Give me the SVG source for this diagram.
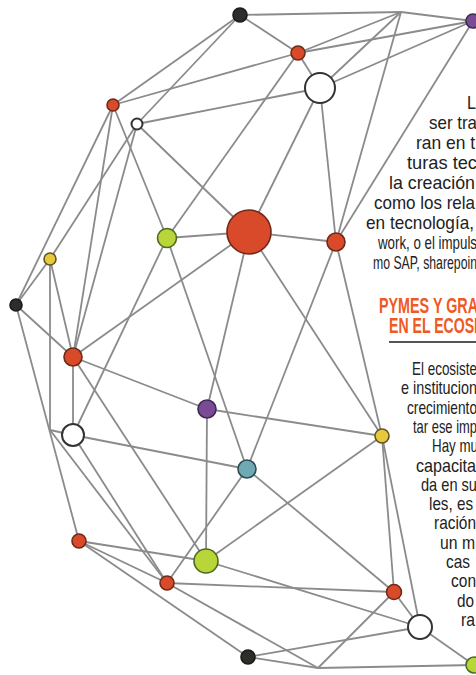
<svg xmlns="http://www.w3.org/2000/svg" width="476" height="675" viewBox="0 0 476 675">
<style>
.e{stroke:#8b8b8b;stroke-width:1.8;fill:none}
.n{stroke-width:1.6}
.red{fill:#d84a2a;stroke:#6e2a18}
.green{fill:#b8d53a;stroke:#4b6b22}
.yellow{fill:#e9c93c;stroke:#5e5428}
.purple{fill:#7b4a97;stroke:#3d2a4f}
.teal{fill:#6fa9b3;stroke:#2d4c52}
.dark{fill:#2b2f27;stroke:#1a1a1a}
.white{fill:#fff;stroke:#333;stroke-width:2}
.t{font-family:"Liberation Sans",Arial,sans-serif;font-size:18.5px;fill:#222}
.h{font-family:"Liberation Sans",Arial,sans-serif;font-size:22px;font-weight:bold;fill:#ef5a24}
</style>
<rect width="476" height="675" fill="#fff"/>
<g id="connectors">
<line class="e" x1="240" y1="15" x2="401" y2="12"/>
<line class="e" x1="401" y1="12" x2="473" y2="21"/>
<line class="e" x1="240" y1="15" x2="298" y2="53"/>
<line class="e" x1="240" y1="15" x2="113" y2="105"/>
<line class="e" x1="240" y1="15" x2="137" y2="124"/>
<line class="e" x1="401" y1="12" x2="298" y2="53"/>
<line class="e" x1="401" y1="12" x2="320" y2="88"/>
<line class="e" x1="401" y1="12" x2="336" y2="242"/>
<line class="e" x1="473" y1="21" x2="298" y2="53"/>
<line class="e" x1="473" y1="21" x2="320" y2="88"/>
<line class="e" x1="473" y1="21" x2="336" y2="242"/>
<line class="e" x1="298" y1="53" x2="113" y2="105"/>
<line class="e" x1="298" y1="53" x2="320" y2="88"/>
<line class="e" x1="298" y1="53" x2="167" y2="238"/>
<line class="e" x1="320" y1="88" x2="137" y2="124"/>
<line class="e" x1="320" y1="88" x2="249" y2="232"/>
<line class="e" x1="320" y1="88" x2="336" y2="242"/>
<line class="e" x1="113" y1="105" x2="167" y2="238"/>
<line class="e" x1="113" y1="105" x2="16" y2="305"/>
<line class="e" x1="113" y1="105" x2="73" y2="357"/>
<line class="e" x1="137" y1="124" x2="249" y2="232"/>
<line class="e" x1="137" y1="124" x2="50" y2="259"/>
<line class="e" x1="137" y1="124" x2="73" y2="357"/>
<line class="e" x1="249" y1="232" x2="167" y2="238"/>
<line class="e" x1="249" y1="232" x2="336" y2="242"/>
<line class="e" x1="249" y1="232" x2="73" y2="357"/>
<line class="e" x1="249" y1="232" x2="207" y2="409"/>
<line class="e" x1="249" y1="232" x2="382" y2="436"/>
<line class="e" x1="167" y1="238" x2="73" y2="435"/>
<line class="e" x1="167" y1="238" x2="247" y2="469"/>
<line class="e" x1="336" y1="242" x2="382" y2="436"/>
<line class="e" x1="336" y1="242" x2="247" y2="469"/>
<line class="e" x1="50" y1="259" x2="16" y2="305"/>
<line class="e" x1="50" y1="259" x2="73" y2="357"/>
<line class="e" x1="50" y1="259" x2="50" y2="430"/>
<line class="e" x1="16" y1="305" x2="73" y2="357"/>
<line class="e" x1="16" y1="305" x2="79" y2="541"/>
<line class="e" x1="73" y1="357" x2="207" y2="409"/>
<line class="e" x1="73" y1="357" x2="73" y2="435"/>
<line class="e" x1="73" y1="357" x2="206" y2="561"/>
<line class="e" x1="207" y1="409" x2="382" y2="436"/>
<line class="e" x1="207" y1="409" x2="206" y2="561"/>
<line class="e" x1="50" y1="430" x2="73" y2="435"/>
<line class="e" x1="73" y1="435" x2="247" y2="469"/>
<line class="e" x1="73" y1="435" x2="167" y2="583"/>
<line class="e" x1="50" y1="430" x2="167" y2="583"/>
<line class="e" x1="382" y1="436" x2="206" y2="561"/>
<line class="e" x1="382" y1="436" x2="394" y2="592"/>
<line class="e" x1="382" y1="436" x2="420" y2="627"/>
<line class="e" x1="247" y1="469" x2="167" y2="583"/>
<line class="e" x1="247" y1="469" x2="394" y2="592"/>
<line class="e" x1="79" y1="541" x2="206" y2="561"/>
<line class="e" x1="79" y1="541" x2="167" y2="583"/>
<line class="e" x1="79" y1="541" x2="248" y2="657"/>
<line class="e" x1="206" y1="561" x2="420" y2="627"/>
<line class="e" x1="167" y1="583" x2="394" y2="592"/>
<line class="e" x1="167" y1="583" x2="318" y2="668"/>
<line class="e" x1="394" y1="592" x2="420" y2="627"/>
<line class="e" x1="394" y1="592" x2="318" y2="668"/>
<line class="e" x1="420" y1="627" x2="248" y2="657"/>
<line class="e" x1="420" y1="627" x2="474" y2="665"/>
<line class="e" x1="248" y1="657" x2="318" y2="668"/>
<line class="e" x1="318" y1="668" x2="474" y2="665"/>
</g>
<g id="n1"><circle class="n dark" cx="240" cy="15" r="7"/></g>
<g id="n2"><circle class="n purple" cx="473" cy="21" r="7"/></g>
<g id="n3"><circle class="n red" cx="298" cy="53" r="7"/></g>
<g id="n4"><circle class="n white" cx="320" cy="88" r="15"/></g>
<g id="n5"><circle class="n red" cx="113" cy="105" r="6"/></g>
<g id="n6"><circle class="n white" cx="137" cy="124" r="5.5"/></g>
<g id="n7"><circle class="n red" cx="249" cy="232" r="22"/></g>
<g id="n8"><circle class="n green" cx="167" cy="238" r="9.5"/></g>
<g id="n9"><circle class="n red" cx="336" cy="242" r="9"/></g>
<g id="n10"><circle class="n yellow" cx="50" cy="259" r="6"/></g>
<g id="n11"><circle class="n dark" cx="16" cy="305" r="6"/></g>
<g id="n12"><circle class="n red" cx="73" cy="357" r="9"/></g>
<g id="n13"><circle class="n purple" cx="207" cy="409" r="9"/></g>
<g id="n14"><circle class="n white" cx="73" cy="435" r="11"/></g>
<g id="n15"><circle class="n yellow" cx="382" cy="436" r="7"/></g>
<g id="n16"><circle class="n teal" cx="247" cy="469" r="9"/></g>
<g id="n17"><circle class="n red" cx="79" cy="541" r="7"/></g>
<g id="n18"><circle class="n green" cx="206" cy="561" r="12"/></g>
<g id="n19"><circle class="n red" cx="167" cy="583" r="7"/></g>
<g id="n20"><circle class="n red" cx="394" cy="592" r="7.5"/></g>
<g id="n21"><circle class="n white" cx="420" cy="627" r="12"/></g>
<g id="n22"><circle class="n dark" cx="248" cy="657" r="7"/></g>
<g id="n23"><circle class="n green" cx="474" cy="665" r="8"/></g>
<g id="text">
<text class="t" x="467" y="109" textLength="9" lengthAdjust="spacingAndGlyphs">L</text>
<text class="t" x="429" y="129" textLength="48" lengthAdjust="spacingAndGlyphs">ser tra</text>
<text class="t" x="416" y="149" textLength="59" lengthAdjust="spacingAndGlyphs">ran en t</text>
<text class="t" x="407" y="169" textLength="70" lengthAdjust="spacingAndGlyphs">turas tec</text>
<text class="t" x="389" y="189" textLength="86" lengthAdjust="spacingAndGlyphs">la creación</text>
<text class="t" x="374" y="209" textLength="101" lengthAdjust="spacingAndGlyphs">como los rela</text>
<text class="t" x="366" y="229" textLength="108" lengthAdjust="spacingAndGlyphs">en tecnología,</text>
<text class="t" x="378" y="249" textLength="99" lengthAdjust="spacingAndGlyphs">work, o el impuls</text>
<text class="t" x="373" y="269" textLength="104" lengthAdjust="spacingAndGlyphs">mo SAP, sharepoin</text>
<text class="h" x="379" y="313" textLength="99" lengthAdjust="spacingAndGlyphs">PYMES Y GRA</text>
<text class="h" x="389" y="333" textLength="89" lengthAdjust="spacingAndGlyphs">EN EL ECOSI</text>
<line x1="389" y1="342" x2="476" y2="342" stroke="#555" stroke-width="2"/>
<text class="t" x="412" y="375" textLength="65" lengthAdjust="spacingAndGlyphs">El ecosiste</text>
<text class="t" x="401" y="394" textLength="76" lengthAdjust="spacingAndGlyphs">e institucion</text>
<text class="t" x="407" y="414" textLength="70" lengthAdjust="spacingAndGlyphs">crecimiento</text>
<text class="t" x="413" y="433" textLength="64" lengthAdjust="spacingAndGlyphs">tar ese imp</text>
<text class="t" x="432" y="452" textLength="46" lengthAdjust="spacingAndGlyphs">Hay mu</text>
<text class="t" x="416" y="472" textLength="60" lengthAdjust="spacingAndGlyphs">capacita</text>
<text class="t" x="421" y="491" textLength="56" lengthAdjust="spacingAndGlyphs">da en su</text>
<text class="t" x="429" y="510" textLength="44" lengthAdjust="spacingAndGlyphs">les, es</text>
<text class="t" x="434" y="529" textLength="42" lengthAdjust="spacingAndGlyphs">ración</text>
<text class="t" x="440" y="549" textLength="35" lengthAdjust="spacingAndGlyphs">un m</text>
<text class="t" x="446" y="568" textLength="24" lengthAdjust="spacingAndGlyphs">cas</text>
<text class="t" x="451" y="587" textLength="25" lengthAdjust="spacingAndGlyphs">con</text>
<text class="t" x="457" y="607" textLength="17" lengthAdjust="spacingAndGlyphs">do</text>
<text class="t" x="461" y="626" textLength="14" lengthAdjust="spacingAndGlyphs">ra</text>
</g>
</svg>
